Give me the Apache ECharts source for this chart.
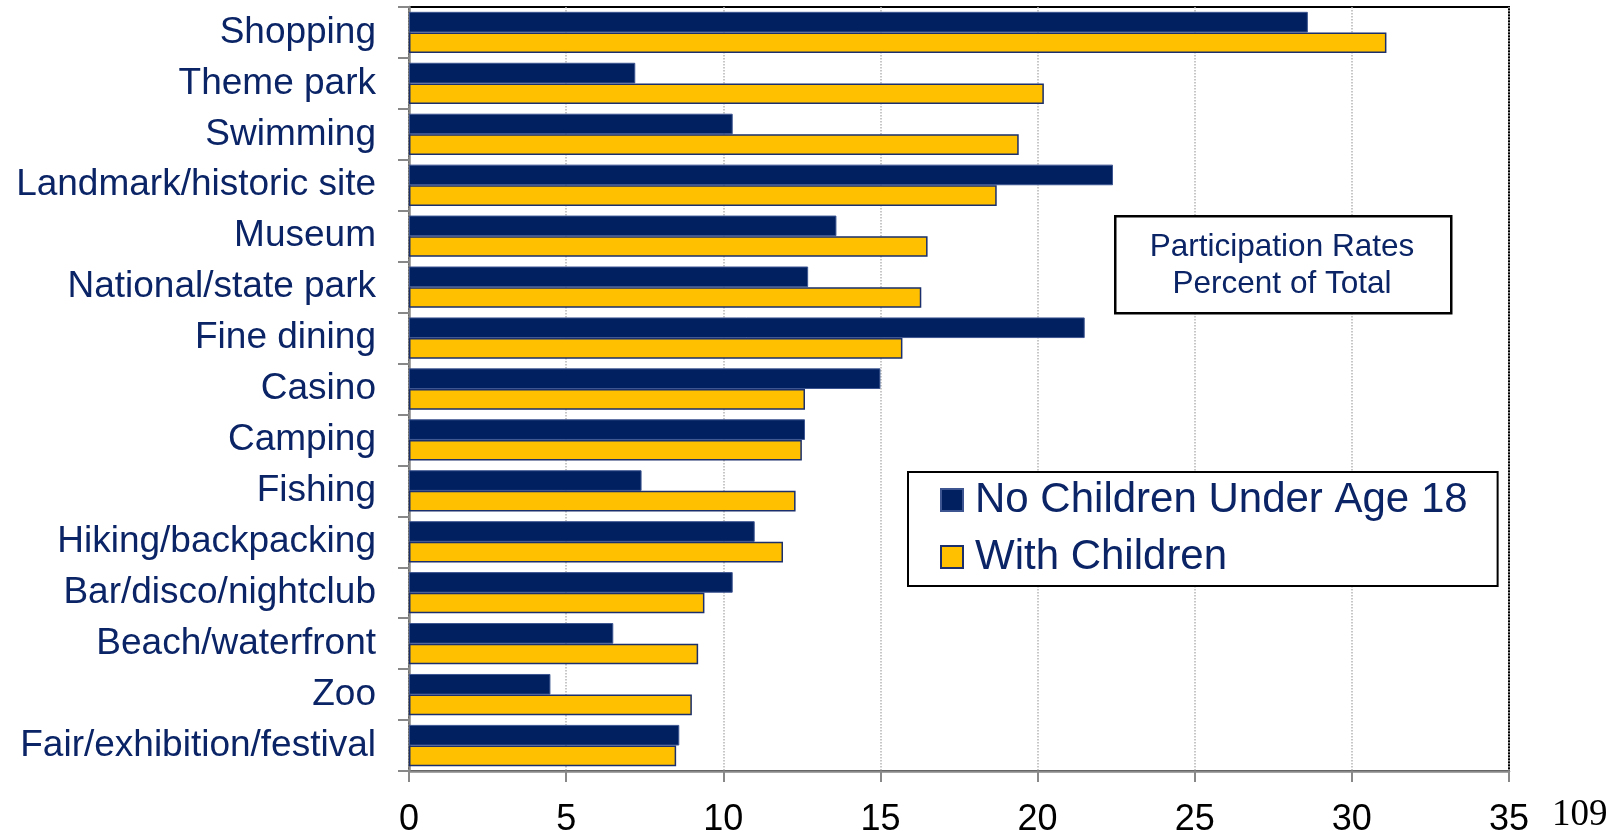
<!DOCTYPE html>
<html>
<head>
<meta charset="utf-8">
<script src="https://cdn.jsdelivr.net/npm/echarts@6/dist/echarts.min.js"></script>
<style>html,body{margin:0;padding:0;background:#fff;}#c{width:1620px;height:831px;}</style>
</head>
<body>
<div id="c"></div>
<script>
const categories = ["Shopping","Theme park","Swimming","Landmark/historic site","Museum","National/state park","Fine dining","Casino","Camping","Fishing","Hiking/backpacking","Bar/disco/nightclub","Beach/waterfront","Zoo","Fair/exhibition/festival"];
const noChildren = [28.6,7.2,10.3,22.4,13.6,12.7,21.5,15.0,12.6,7.4,11.0,10.3,6.5,4.5,8.6];
const withChildren = [31.1,20.2,19.4,18.7,16.5,16.3,15.7,12.6,12.5,12.3,11.9,9.4,9.2,9.0,8.5];
const seriesNames = ["No Children Under Age 18","With Children"];
const xTicks = {min:0,max:35,interval:5};
const boxLines = ["Participation Rates","Percent of Total"];
const pageNumber = "109";

const NAVY = '#002060', GOLD = '#FFC000', TEXT = '#0a2466';
const chart = echarts.init(document.getElementById('c'), null, {renderer:'canvas'});
chart.setOption({
  animation:false,
  backgroundColor:'#fff',
  grid:{left:409,right:111,top:7,bottom:60,containLabel:false,outerBoundsMode:'none',show:true,borderColor:'#000',borderWidth:2,backgroundColor:'transparent'},
  xAxis:{type:'value',min:xTicks.min,max:xTicks.max,interval:xTicks.interval,
    axisLine:{show:true,lineStyle:{color:'#888',width:2.5}},
    axisTick:{show:true,length:11,lineStyle:{color:'#888',width:2}},
    splitLine:{show:true,lineStyle:{color:'#b5b5b5',type:'dotted',width:1.5}},
    axisLabel:{color:'#000',fontSize:36,fontFamily:'Liberation Sans, Arial',margin:31}},
  yAxis:{type:'category',data:categories,inverse:true,
    axisLine:{show:true,lineStyle:{color:'#888',width:2.5}},
    axisTick:{show:true,length:11,lineStyle:{color:'#888',width:2}},
    axisLabel:{color:TEXT,fontSize:37,fontFamily:'Liberation Sans, Arial',margin:33,padding:[0,0,4,0]}},
  legend:{orient:'vertical',left:908,top:472,padding:[7,30,8,32],itemGap:15,itemWidth:22,itemHeight:22,
    borderColor:'#000',borderWidth:2,backgroundColor:'#fff',icon:'rect',
    textStyle:{color:TEXT,fontSize:42,fontFamily:'Liberation Sans, Arial',padding:[0,0,0,7]},
    data:seriesNames},
  series:[
    {name:seriesNames[0],type:'bar',data:noChildren,barGap:'0%',barCategoryGap:'19%',
     itemStyle:{color:NAVY,borderColor:'#3d5590',borderWidth:1}},
    {name:seriesNames[1],type:'bar',data:withChildren,barGap:'0%',barCategoryGap:'19%',
     itemStyle:{color:GOLD,borderColor:'#1a2f6b',borderWidth:1.5}}
  ],
  graphic:[
    {type:'rect',left:1114,top:215,shape:{width:336,height:97},style:{fill:'#fff',stroke:'#000',lineWidth:2.5},z:10},
    {type:'text',x:1282,y:247,style:{text:boxLines[0],fill:TEXT,font:'31.5px "Liberation Sans", Arial',textAlign:'center',textVerticalAlign:'middle'},z:11},
    {type:'text',x:1282,y:284,style:{text:boxLines[1],fill:TEXT,font:'31.5px "Liberation Sans", Arial',textAlign:'center',textVerticalAlign:'middle'},z:11},
    {type:'text',x:1552,y:834,style:{text:pageNumber,fill:'#000',font:'37px "Liberation Serif", "Times New Roman", serif',textAlign:'left',textVerticalAlign:'bottom'},z:11}
  ]
});
</script>
</body>
</html>
